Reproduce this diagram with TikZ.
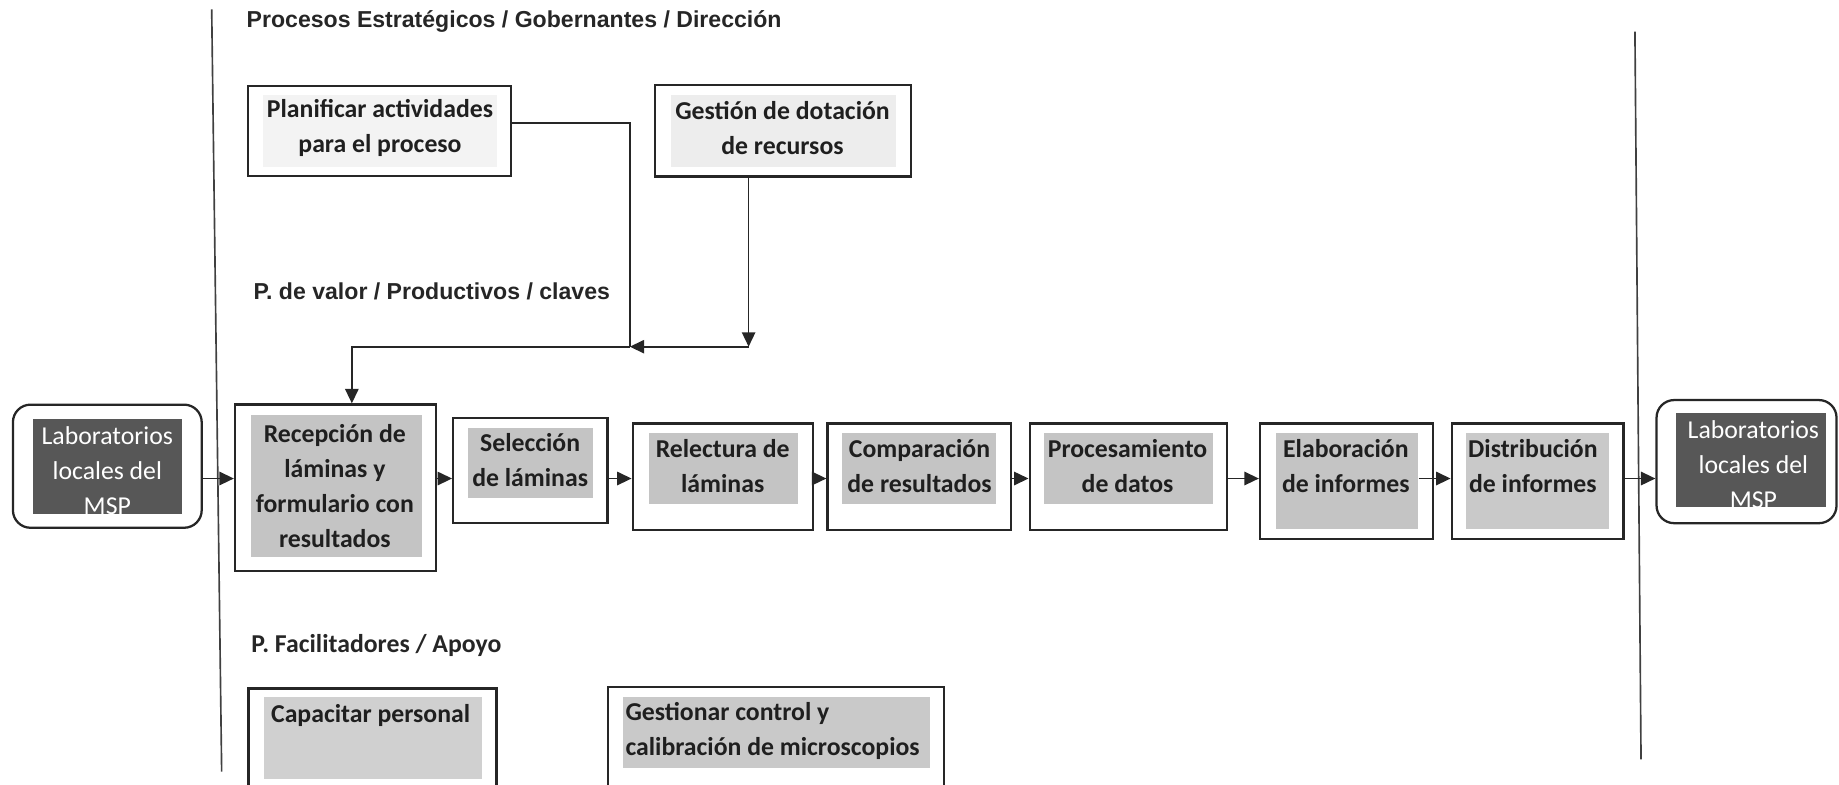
\documentclass[tikz,border=0pt]{standalone}
\usepackage{fontspec}
\setmainfont{Carlito}
\newfontfamily\headfont{Liberation Sans}
\usetikzlibrary{arrows.meta}
\definecolor{boxgray}{HTML}{C4C4C4}
\definecolor{palegray}{HTML}{EDEDED}
\definecolor{faintgray}{HTML}{F3F3F3}
\definecolor{capgray}{HTML}{D0D0D0}
\definecolor{calgray}{HTML}{C9C9C9}
\definecolor{labgray}{HTML}{575757}
\begin{document}
\begin{tikzpicture}[x=0.02cm, y=-0.02cm]

  \tikzset{frame/.style={draw=black!85, line width=1.1pt, fill=white, inner sep=0pt},
           shade/.style={fill=boxgray, inner sep=0pt},
           boxtext/.style={font=\fontsize{12.5}{17}\selectfont\bfseries, text=black!88, align=center, inner sep=0pt},
           labtext/.style={font=\fontsize{12.5}{17}\selectfont, text=white, align=center, inner sep=0pt},
           heading/.style={font=\headfont\bfseries\fontsize{11.2}{13}\selectfont, text=black!85, anchor=west, inner sep=0pt},
           arr/.style={-{Triangle[length=7pt,width=6.5pt]}, line width=0.8pt, draw=black!85},
           divider/.style={line width=0.8pt, draw=black!75}}
  \useasboundingbox (0,0) rectangle (1568,669);

%% Dividers
	\draw[divider] (180.5,8) -- (189,658);
	\draw[divider] (1394,27) -- (1399.2,647.5);

%% Headings
	\node[heading] (estrat) at (210,18.5) {Procesos Estratégicos / Gobernantes / Dirección};
	\node[heading] (valor) at (216,248.7) {P. de valor / Productivos / claves};
	\node[heading, font=\fontsize{12.5}{17}\selectfont\bfseries] (apoyo) at (214,550) {P. Facilitadores / Apoyo};

%% Strategic boxes
	\node[frame, minimum width=4.48cm, minimum height=1.53cm] (planif) at (323.5,111.65) {};
	\node[shade, fill=faintgray, minimum width=4.0cm, minimum height=1.22cm] (planif-fill) at (324,111.5) {};
	\node[boxtext] (planif-text) at (324,109) {Planificar actividades\\para el proceso};
	\node[frame, minimum width=4.36cm, minimum height=1.56cm] (gestion) at (667.5,111.55) {};
	\node[shade, fill=palegray, minimum width=3.84cm, minimum height=1.22cm] (gestion-fill) at (668,111.5) {};
	\node[boxtext] (gestion-text) at (667.2,109.5) {Gestión de dotación\\de recursos};

%% Value chain
	\node[frame, rounded corners=0.3cm, minimum width=3.22cm, minimum height=2.10cm] (labl) at (91.5,397.5) {};
	\node[shade, fill=labgray, minimum width=2.54cm, minimum height=1.62cm] (labl-fill) at (91.5,398) {};
	\node[labtext] (labl-text) at (91.5,401) {Laboratorios\\locales del\\MSP};

	\node[frame, minimum width=3.43cm, minimum height=2.84cm] (recep) at (286.1,415.85) {};
	\node[shade, minimum width=2.92cm, minimum height=2.42cm] (recep-fill) at (286.6,414.3) {};
	\node[boxtext] (recep-text) at (285.5,414.5) {Recepción de\\láminas y\\formulario con\\resultados};

	\node[frame, minimum width=2.63cm, minimum height=1.80cm] (sel) at (452.15,401.1) {};
	\node[shade, minimum width=2.12cm, minimum height=1.20cm] (sel-fill) at (452.35,394.8) {};
	\node[boxtext] (sel-text) at (452,392) {Selección\\de láminas};

	\node[frame, minimum width=3.07cm, minimum height=1.82cm] (relec) at (616.2,406.5) {};
	\node[shade, minimum width=2.55cm, minimum height=1.21cm] (relec-fill) at (616.75,399.35) {};
	\node[boxtext] (relec-text) at (616.2,397.5) {Relectura de\\láminas};

	\node[frame, minimum width=3.13cm, minimum height=1.82cm] (comp) at (783.8,406.5) {};
	\node[shade, minimum width=2.63cm, minimum height=1.21cm] (comp-fill) at (783.7,399.35) {};
	\node[boxtext] (comp-text) at (784,397.5) {Comparación\\de resultados};

	\node[frame, minimum width=3.36cm, minimum height=1.82cm] (proc) at (961.9,406.5) {};
	\node[shade, minimum width=2.88cm, minimum height=1.21cm] (proc-fill) at (962.4,399.35) {};
	\node[boxtext] (proc-text) at (961.4,397.5) {Procesamiento\\de datos};

	\node[frame, minimum width=2.95cm, minimum height=1.97cm] (elab) at (1148.05,410.3) {};
	\node[shade, minimum width=2.43cm, minimum height=1.63cm] (elab-fill) at (1148.55,410.25) {};
	\node[boxtext] (elab-text) at (1147.5,397.5) {Elaboración\\de informes};

	\node[frame, minimum width=2.93cm, minimum height=1.97cm] (distr) at (1311,410.3) {};
	\node[shade, fill=calgray, minimum width=2.43cm, minimum height=1.63cm] (distr-fill) at (1311,410.25) {};
	\node[boxtext] (distr-text) at (1307,397.5) {Distribución\\de informes};

	\node[frame, rounded corners=0.3cm, minimum width=3.07cm, minimum height=2.10cm] (labr) at (1489.15,393.6) {};
	\node[shade, fill=labgray, minimum width=2.56cm, minimum height=1.60cm] (labr-fill) at (1493.3,392.5) {};
	\node[labtext] (labr-text) at (1495,396) {Laboratorios\\locales del\\MSP};

%% Support boxes
	\node[frame, minimum width=4.23cm, minimum height=1.86cm] (capac) at (317.7,633.5) {};
	\node[shade, fill=capgray, minimum width=3.72cm, minimum height=1.40cm] (capac-fill) at (318,629.55) {};
	\node[boxtext] (capac-text) at (316,610) {Capacitar personal};
	\node[frame, minimum width=5.73cm, minimum height=1.89cm] (calib) at (661.75,632.75) {};
	\node[shade, fill=calgray, minimum width=5.23cm, minimum height=1.21cm] (calib-fill) at (661.8,624.8) {};
	\node[boxtext, align=left, anchor=west] (calib-text) at (533,623.5) {Gestionar control y\\calibración de microscopios};

%% Connectors
	\coordinate (turn) at (638.3,295.6);
	\coordinate (meet) at (537,295.6);
	\coordinate (entry) at (300,295.6);
	\coordinate (row) at (0,408);
	\draw[arr] (gestion.south -| turn) -- (turn);
	\draw[arr] (turn) -- (meet);
	\draw[line width=0.8pt, draw=black!85] ([yshift=3.8pt]planif.east) -| (meet);
	\draw[arr] (meet) -- (entry) -- (entry |- recep.north);

	\draw[arr] (labl.east |- row) -- (recep.west |- row);
	\draw[arr] (recep.east |- row) -- (sel.west |- row);
	\draw[arr] (sel.east |- row) -- (relec.west |- row);
	\draw[arr] (relec.east |- row) -- (comp.west |- row);
	\draw[arr] (comp.east |- row) -- (proc.west |- row);
	\draw[arr] (proc.east |- row) -- (elab.west |- row);
	\draw[arr] (elab-fill.east |- row) -- (distr.west |- row);
	\draw[arr] (distr.east |- row) -- (labr.west |- row);

\end{tikzpicture}
\end{document}
